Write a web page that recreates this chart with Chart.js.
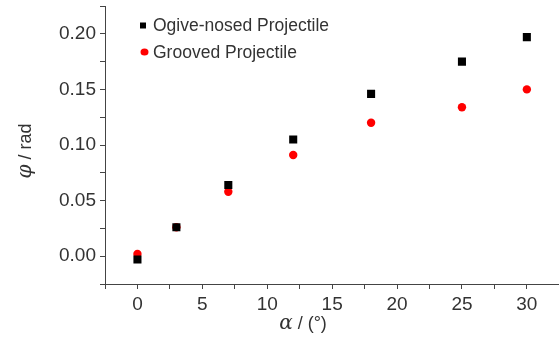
<!DOCTYPE html>
<html>
<head>
<meta charset="utf-8">
<script src="https://cdn.jsdelivr.net/npm/chart.js@4/dist/chart.umd.min.js"></script>
<style>
  html, body { margin: 0; padding: 0; background: #fff; overflow: hidden; }
  #frame { width: 559px; height: 340px; overflow: hidden; }
  canvas { display: block; }
</style>
</head>
<body>
<div id="frame"><canvas id="chart" width="565" height="340"></canvas></div>
<script>
// Projectile rotation angle φ versus angle of attack α
const seriesNames = ['Ogive-nosed Projectile', 'Grooved Projectile'];
const alphaDeg = [0, 3, 7, 12, 18, 25, 30];
const phiOgive = [-0.003, 0.026, 0.064, 0.105, 0.146, 0.175, 0.197];
const phiGrooved = [0.002, 0.026, 0.058, 0.091, 0.120, 0.134, 0.150];
const xTickLabels = ['0', '5', '10', '15', '20', '25', '30'];
const yTickLabels = ['0.00', '0.05', '0.10', '0.15', '0.20'];

const FONT = '"Liberation Sans", Arial, sans-serif';
const TEXT = '#333333';
const AXIS = '#444444';

const toPoints = (ys) => alphaDeg.map((a, i) => ({ x: a, y: ys[i] }));

// Labels only on major ticks; minor ticks keep their mark but no text
function majorLabel(value, labels, step) {
  const k = Math.round(value / step);
  if (Math.abs(k * step - value) > 1e-9) return '';
  const text = labels.find(l => Math.abs(parseFloat(l) - value) < 1e-9);
  return text === undefined ? '' : text;
}

// Legend drawn inside the plot area, top-left
const insideLegend = {
  id: 'insideLegend',
  afterDraw(chart) {
    const ctx = chart.ctx;
    ctx.save();
    ctx.font = '17.5px ' + FONT;
    ctx.textBaseline = 'middle';
    const rows = [25, 52];
    chart.data.datasets.forEach((ds, i) => {
      const cy = rows[i];
      ctx.fillStyle = ds.backgroundColor;
      ctx.beginPath();
      if (ds.pointStyle === 'rect') {
        ctx.rect(140, cy - 2.5, 6, 6);
      } else {
        ctx.ellipse(144.5, cy, 4, 3.5, 0, 0, Math.PI * 2);
      }
      ctx.fill();
      ctx.fillStyle = TEXT;
      ctx.textAlign = 'left';
      ctx.fillText(ds.label, 153, cy + 1);
    });
    ctx.restore();
  }
};

// Axis titles with an italic Greek symbol followed by upright units
function drawMixed(ctx, parts, cx, cy) {
  let total = 0;
  parts.forEach(p => { ctx.font = p.font; p.w = ctx.measureText(p.text).width; total += p.w; });
  let x = cx - total / 2;
  parts.forEach(p => {
    ctx.font = p.font;
    ctx.fillText(p.text, x, cy);
    x += p.w;
  });
}

const axisTitles = {
  id: 'axisTitles',
  afterDraw(chart) {
    const ctx = chart.ctx;
    ctx.save();
    ctx.fillStyle = TEXT;
    ctx.textBaseline = 'middle';
    ctx.textAlign = 'left';
    drawMixed(ctx, [
      { text: 'α', font: 'italic 20px "DejaVu Serif", serif' },
      { text: ' / (°)', font: '18px ' + FONT }
    ], 303, 324);
    const ya = chart.scales.y;
    const yMid = (ya.getPixelForValue(0) + ya.getPixelForValue(0.2)) / 2 + 6;
    ctx.translate(26, yMid);
    ctx.rotate(-Math.PI / 2);
    drawMixed(ctx, [
      { text: 'φ', font: 'italic 20px "DejaVu Serif", serif' },
      { text: ' / rad', font: '18px ' + FONT }
    ], 0, 0);
    ctx.restore();
  }
};

new Chart(document.getElementById('chart'), {
  type: 'scatter',
  data: {
    datasets: [
      {
        label: seriesNames[0],
        data: toPoints(phiOgive),
        pointStyle: 'rect',
        pointRadius: 5.7,
        pointHoverRadius: 5.7,
        backgroundColor: '#000000',
        borderColor: '#000000',
        borderWidth: 0
      },
      {
        label: seriesNames[1],
        data: toPoints(phiGrooved),
        pointStyle: 'circle',
        pointRadius: 4.2,
        pointHoverRadius: 4.2,
        backgroundColor: '#ff0000',
        borderColor: '#ff0000',
        borderWidth: 0
      }
    ]
  },
  options: {
    responsive: false,
    devicePixelRatio: 1,
    animation: false,
    layout: { padding: { top: 6, right: 0, left: 0, bottom: 0 } },
    plugins: {
      legend: { display: false },
      tooltip: { enabled: false }
    },
    scales: {
      x: {
        type: 'linear',
        min: -2.5,
        max: 32.5,
        border: { color: AXIS, width: 1 },
        grid: { drawOnChartArea: false, drawTicks: true, tickLength: 5, tickColor: AXIS },
        ticks: {
          stepSize: 2.5,
          autoSkip: false,
          maxRotation: 0,
          padding: 4,
          color: TEXT,
          font: { family: FONT, size: 19 },
          callback: (v) => majorLabel(v, xTickLabels, 5)
        },
        afterFit: (s) => { s.height = 56; s.paddingLeft = 0; s.paddingRight = 0; }
      },
      y: {
        type: 'linear',
        min: -0.025,
        max: 0.225,
        border: { color: AXIS, width: 1 },
        grid: { drawOnChartArea: false, drawTicks: true, tickLength: 5, tickColor: AXIS },
        ticks: {
          stepSize: 0.025,
          autoSkip: false,
          padding: 4,
          color: TEXT,
          font: { family: FONT, size: 19 },
          callback: (v) => majorLabel(v, yTickLabels, 0.05)
        },
        afterFit: (s) => { s.width = 105; s.paddingTop = 0; s.paddingBottom = 0; }
      }
    }
  },
  plugins: [insideLegend, axisTitles]
});
</script>
</body>
</html>
